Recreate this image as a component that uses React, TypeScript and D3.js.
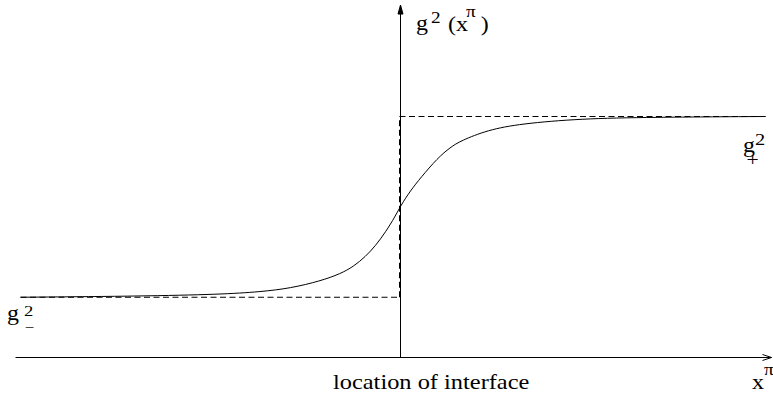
import React from "react";
import * as d3 from "d3";

// Levels of g^2 on either side of the interface (arbitrary units)
const gMinusSq = 1.0;
const gPlusSq = 4.0;

// Smooth profile: position (interface at 0), g^2 value
const profileX = [-9.5, -6.5, -4.5, -3.5, -2.75, -2.0, -1.5, -1.175, -0.875, -0.625, -0.375, -0.125, 0, 0.25, 0.5, 0.925, 1.25, 1.5, 2.175, 3.0, 4.5, 6.25, 9.125];
const profileY = [1.0, 1.018, 1.048, 1.09, 1.15, 1.27, 1.39, 1.51, 1.675, 1.855, 2.08, 2.35, 2.515, 2.77, 2.98, 3.31, 3.49, 3.595, 3.775, 3.88, 3.964, 3.988, 4.0];

// Extents of axes / step in data units
const axisXStart = -9.625;
const axisXEnd = 9.275;
const axisYTop = 5.85;
const profileStart = -9.5;
const profileEnd = 9.125;
const interfaceX = 0;

const W = 773;
const H = 393;

const FONT = "'Liberation Serif', 'Times New Roman', Times, serif";

export default function App() {
  const x = d3.scaleLinear().domain([-10, 10]).range([0, 800]);
  const y = d3.scaleLinear().domain([0, gPlusSq]).range([357, 116]);

  const profile = profileX.map((v, i) => [v, profileY[i]] as [number, number]);
  const line = d3
    .line<[number, number]>()
    .x((d) => x(d[0]))
    .y((d) => y(d[1]))
    .curve(d3.curveBasis);

  const x0 = x(interfaceX);
  const yBase = y(0);
  const dashX = x0 - 1;

  const axisRight = x(axisXEnd);
  const axisTop = y(axisYTop);

  const sx = 1.2;
  const ts = { fontFamily: FONT } as React.CSSProperties;

  return (
    <svg
      width={W}
      height={H}
      style={{ position: "absolute", left: 0, top: 0, background: "#fff" }}
    >
      <rect x={0} y={0} width={W} height={H} fill="#fff" />
      <g transform="translate(0.5,0.5)" fill="none" stroke="#000" strokeWidth={1}>
        {/* horizontal axis */}
        <line x1={x(axisXStart)} x2={axisRight} y1={yBase} y2={yBase} />
        <polyline
          points={`${axisRight - 9},${yBase - 3} ${axisRight},${yBase} ${axisRight - 9},${yBase + 3}`}
        />
        {/* vertical axis */}
        <line x1={x0} x2={x0} y1={yBase} y2={axisTop} />
        <polygon
          points={`${x0 - 2.5},${axisTop + 9} ${x0},${axisTop} ${x0 + 2.5},${axisTop + 9}`}
          fill="#000"
        />
        {/* dashed step */}
        <line
          x1={x(profileStart)}
          x2={dashX}
          y1={y(gMinusSq)}
          y2={y(gMinusSq)}
          strokeDasharray="6,3.5"
        />
        <line
          x1={dashX}
          x2={dashX}
          y1={y(gMinusSq)}
          y2={y(gPlusSq)}
          strokeDasharray="6,3.5"
        />
        <line
          x1={dashX}
          x2={x(profileEnd)}
          y1={y(gPlusSq)}
          y2={y(gPlusSq)}
          strokeDasharray="6,3.5"
        />
        {/* smooth profile */}
        <path d={line(profile) || ""} strokeWidth={1} />
      </g>

      <g fill="#000">
        {/* g^2 (x^pi) */}
        <g transform={`translate(416,30) scale(${sx},1)`}>
          <text x={0} y={0} fontSize={20} style={ts}>
            g
            <tspan x={12.5} y={-7} fontSize={16}>2</tspan>
            <tspan x={26.7} y={1} fontSize={20}>(x</tspan>
            <tspan x={41.7} y={-13} fontSize={16}>π</tspan>
            <tspan x={54} y={1} fontSize={20}>)</tspan>
          </text>
        </g>
        {/* g_-^2 */}
        <g transform={`translate(7,320) scale(${sx},1)`}>
          <text x={0} y={0} fontSize={20} style={ts}>
            g
            <tspan x={14.2} y={-4.5} fontSize={15.5}>2</tspan>
            <tspan x={15} y={11.5} fontSize={14}>−</tspan>
          </text>
        </g>
        {/* g_+^2 */}
        <g transform={`translate(743,152) scale(${sx},1)`}>
          <text x={0} y={0} fontSize={20} style={ts}>
            g
            <tspan x={10} y={-7} fontSize={17}>2</tspan>
            <tspan x={3} y={14} fontSize={18}>+</tspan>
          </text>
        </g>
        {/* bottom label */}
        <g transform={`translate(333,389) scale(1.22,1)`}>
          <text x={0} y={0} fontSize={20} style={ts}>location of interface</text>
        </g>
        {/* x^pi */}
        <g transform={`translate(752,389) scale(${sx},1)`}>
          <text x={0} y={0} fontSize={20} style={ts}>
            x
            <tspan x={10} y={-14} fontSize={16}>π</tspan>
          </text>
        </g>
      </g>
    </svg>
  );
}
